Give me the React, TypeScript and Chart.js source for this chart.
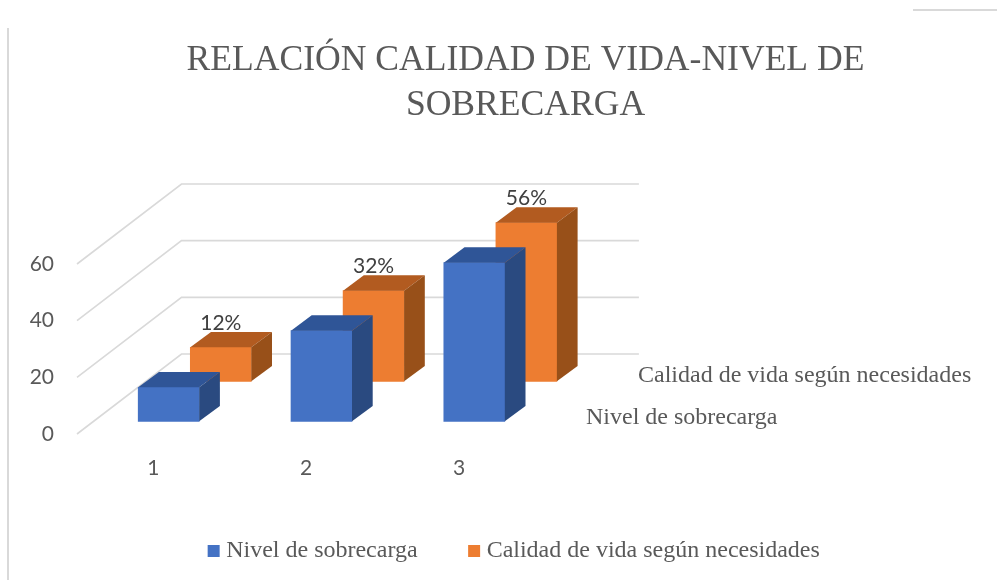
import React, { useEffect, useRef } from "react";
import { Chart, registerables } from "chart.js";

Chart.register(...registerables);

const categories = ["1", "2", "3"];
const seriesNames = ["Nivel de sobrecarga", "Calidad de vida según necesidades"];
const nivelValues = [12, 32, 56];
const calidadValues = [12, 32, 56];
const titleLines = ["RELACIÓN CALIDAD DE VIDA-NIVEL DE", "SOBRECARGA"];
const labelSuffix = "%";

const SERIF = "'Liberation Serif', serif";
const SANS = "Lato, sans-serif";
const TEXT = "#595959";
const GRID = "#D9D9D9";

// Oblique projection of the 3D look
const WALL = { dx: 104.5, dy: -80 };
const BAR_DEPTH = { dx: 20.7, dy: -15.3 };
const SHIFT = [
  { dx: 15.3, dy: -12.7 },
  { dx: 67.4, dy: -52.7 },
];
const FACES = [
  { top: "#2F5597", side: "#2A4A80" },
  { top: "#B25B20", side: "#985019" },
];
const DEPTH_LABELS = [
  { x: 586, y: 418 },
  { x: 638, y: 376 },
];

const threeD = {
  id: "threeD",
  afterLayout(chart: any) {
    if (chart.legend) {
      chart.legend.top = 483;
      chart.legend.bottom = 580;
      chart.legend.left += 18;
      chart.legend.right += 18;
    }
    if (chart.titleBlock) {
      chart.titleBlock.left += 27;
      chart.titleBlock.right += 27;
    }
  },
  beforeDraw(chart: any) {
    const { ctx } = chart;
    ctx.save();
    ctx.strokeStyle = GRID;
    ctx.lineWidth = 2;
    ctx.beginPath();
    ctx.moveTo(8, 28);
    ctx.lineTo(8, 580);
    ctx.moveTo(913, 10);
    ctx.lineTo(997, 10);
    ctx.stroke();
    ctx.restore();
  },
  beforeDatasetsDraw(chart: any) {
    const { ctx, chartArea, scales } = chart;
    ctx.save();
    ctx.strokeStyle = GRID;
    ctx.lineWidth = 1.6;
    ctx.beginPath();
    for (const t of scales.y.ticks) {
      const y = scales.y.getPixelForValue(t.value);
      ctx.moveTo(chartArea.left, y);
      ctx.lineTo(chartArea.left + WALL.dx, y + WALL.dy);
      ctx.lineTo(chartArea.right + WALL.dx - 1, y + WALL.dy);
    }
    ctx.stroke();
    ctx.restore();
  },
  beforeDatasetDraw(chart: any, args: any) {
    const s = SHIFT[args.index];
    chart.ctx.save();
    chart.ctx.translate(s.dx, s.dy);
  },
  afterDatasetDraw(chart: any, args: any) {
    const { ctx } = chart;
    const f = FACES[args.index];
    const d = BAR_DEPTH;
    for (const el of args.meta.data) {
      const l = el.x - el.width / 2;
      const r = el.x + el.width / 2;
      ctx.fillStyle = f.top;
      ctx.beginPath();
      ctx.moveTo(l, el.y);
      ctx.lineTo(l + d.dx, el.y + d.dy);
      ctx.lineTo(r + d.dx, el.y + d.dy);
      ctx.lineTo(r, el.y);
      ctx.closePath();
      ctx.fill();
      ctx.fillStyle = f.side;
      ctx.beginPath();
      ctx.moveTo(r, el.y);
      ctx.lineTo(r + d.dx, el.y + d.dy);
      ctx.lineTo(r + d.dx, el.base + d.dy);
      ctx.lineTo(r, el.base);
      ctx.closePath();
      ctx.fill();
    }
    ctx.restore();
  },
  afterDatasetsDraw(chart: any) {
    const { ctx } = chart;
    ctx.save();
    // value labels on the back series
    const meta = chart.getDatasetMeta(1);
    ctx.font = `21px ${SANS}`;
    ctx.fillStyle = "#404040";
    ctx.textAlign = "center";
    ctx.textBaseline = "alphabetic";
    meta.data.forEach((el: any, i: number) => {
      const v = chart.data.datasets[1].data[i];
      ctx.fillText(`${v}${labelSuffix}`, el.x + SHIFT[1].dx, el.y + SHIFT[1].dy + BAR_DEPTH.dy - 2);
    });
    // depth axis labels
    ctx.font = `24px ${SERIF}`;
    ctx.fillStyle = TEXT;
    ctx.textAlign = "left";
    ctx.textBaseline = "middle";
    seriesNames.forEach((name, i) => {
      ctx.fillText(name, DEPTH_LABELS[i].x, DEPTH_LABELS[i].y);
    });
    ctx.restore();
  },
};

export default function App() {
  const ref = useRef<HTMLCanvasElement>(null);
  useEffect(() => {
    const chart = new Chart(ref.current as HTMLCanvasElement, {
      type: "bar",
      data: {
        labels: categories,
        datasets: [
          { label: seriesNames[0], data: nivelValues, backgroundColor: "#4472C4", grouped: false, barThickness: 61, clip: false as any, pointStyle: "rect" },
          { label: seriesNames[1], data: calidadValues, backgroundColor: "#ED7D31", grouped: false, barThickness: 61, clip: false as any, pointStyle: "rect" },
        ],
      },
      options: {
        animation: false,
        responsive: false,
        layout: { padding: 0 },
        plugins: {
          tooltip: { enabled: false },
          title: {
            display: true,
            text: titleLines,
            color: TEXT,
            font: { family: SERIF, size: 35.6, weight: "normal", lineHeight: 1.264 },
            padding: { top: 38.5, bottom: 135.5 },
          },
          legend: {
            position: "bottom",
            labels: {
              color: TEXT,
              font: { family: SERIF, size: 24 },
              usePointStyle: true,
              pointStyle: "rect",
              boxWidth: 1,
              boxHeight: 12,
              padding: 56,
            },
          },
        },
        scales: {
          x: {
            grid: { display: false },
            border: { display: false },
            ticks: { color: TEXT, font: { family: SANS, size: 21 }, padding: 14 },
            afterFit(scale: any) {
              scale.height = 56;
            },
          },
          y: {
            min: 0,
            max: 60,
            grid: { display: false, drawTicks: false },
            border: { display: false },
            ticks: { stepSize: 20, color: TEXT, font: { family: SANS, size: 21 }, padding: 23 },
            afterFit(scale: any) {
              scale.width = 77;
            },
          },
          y2: {
            position: "right",
            grid: { display: false },
            border: { display: false },
            ticks: { display: false },
            afterFit(scale: any) {
              scale.width = 461.6;
            },
          },
        },
      },
      plugins: [threeD],
    } as any);
    return () => chart.destroy();
  }, []);
  return (
    <div style={{ position: "absolute", left: 0, top: 0, width: 997, height: 580, overflow: "hidden", background: "#fff" }}>
      <canvas ref={ref} width={997} height={580} style={{ display: "block" }} />
    </div>
  );
}
